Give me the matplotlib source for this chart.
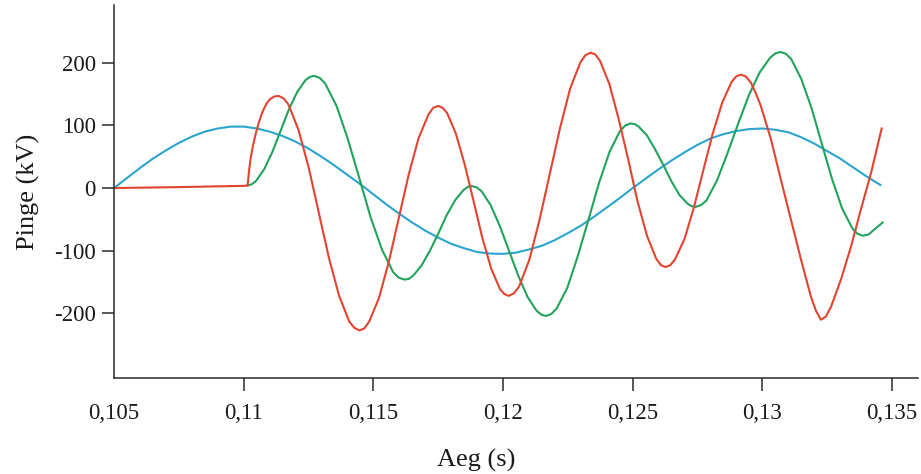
import matplotlib
matplotlib.use("Agg")
import matplotlib.pyplot as plt

# time axis (s) and voltages (kV)
red_t = [0.10500, 0.10750, 0.11000, 0.11015,
         0.11020, 0.11027, 0.11036, 0.11046, 0.11058, 0.11072, 0.11087, 0.11102, 0.11118, 0.11134,
         0.11154, 0.11173, 0.11212, 0.11251, 0.11290, 0.11329, 0.11368, 0.11407, 0.11427, 0.11446,
         0.11465, 0.11484, 0.11522, 0.11560, 0.11598, 0.11636, 0.11674, 0.11712, 0.11731, 0.11750,
         0.11767, 0.11784, 0.11818, 0.11852, 0.11886, 0.11920, 0.11954, 0.11988, 0.12005, 0.12022,
         0.12042, 0.12062, 0.12101, 0.12140, 0.12180, 0.12220, 0.12259, 0.12299, 0.12318, 0.12338,
         0.12356, 0.12374, 0.12410, 0.12446, 0.12483, 0.12518, 0.12555, 0.12591, 0.12609, 0.12627,
         0.12645, 0.12663, 0.12700, 0.12736, 0.12772, 0.12808, 0.12845, 0.12881, 0.12899, 0.12917,
         0.12936, 0.12956, 0.12975, 0.12994, 0.13033, 0.13071, 0.13110, 0.13149, 0.13187, 0.13207, 0.13226,
         0.13245, 0.13265, 0.13303, 0.13342, 0.13380, 0.13419, 0.13460]
red_v = [0, 1.5, 3.5, 4,
         25, 48, 68, 86, 104, 121, 134, 142, 146, 147,
         143, 133, 92, 32, -40, -112, -172, -213, -223, -227,
         -224, -213, -175, -117, -48, 21, 79, 117, 128, 131,
         128, 120, 87, 38, -20, -79, -128, -161, -169, -172,
         -168, -157, -115, -52, 22, 96, 159, 201, 212, 216,
         213, 203, 166, 110, 45, -20, -76, -113, -123, -126,
         -123, -114, -81, -31, 28, 86, 136, 169, 178, 181,
         178, 168, 151, 131, 78, 14, -50, -114, -173, -196, -210,
         -205, -189, -146, -93, -34, 24, 95]

green_t = [0.11015, 0.11031, 0.11047, 0.11079, 0.11111, 0.11143, 0.11174, 0.11206, 0.11238, 0.11254, 0.11270,
           0.11292, 0.11314, 0.11358, 0.11401, 0.11445, 0.11489, 0.11533, 0.11576, 0.11598, 0.11620,
           0.11636, 0.11653, 0.11685, 0.11718, 0.11751, 0.11783, 0.11816, 0.11848, 0.11865, 0.11881,
           0.11899, 0.11917, 0.11952, 0.11988, 0.12024, 0.12059, 0.12095, 0.12130, 0.12148, 0.12166,
           0.12186, 0.12207, 0.12248, 0.12288, 0.12329, 0.12370, 0.12411, 0.12451, 0.12472, 0.12492,
           0.12508, 0.12523, 0.12555, 0.12586, 0.12618, 0.12649, 0.12680, 0.12712, 0.12727, 0.12743,
           0.12764, 0.12784, 0.12825, 0.12866, 0.12907, 0.12948, 0.12989, 0.13030, 0.13051, 0.13071,
           0.13091, 0.13111, 0.13150, 0.13190, 0.13229, 0.13269, 0.13308, 0.13348, 0.13367, 0.13387,
           0.13410, 0.13432, 0.13464]
green_v = [4, 6, 11, 30, 58, 92, 125, 153, 172, 177, 179,
           176, 167, 131, 79, 17, -46, -98, -134, -143, -146,
           -145, -140, -124, -100, -72, -43, -19, -3, 2, 3,
           1, -5, -27, -61, -101, -140, -174, -196, -202, -204,
           -201, -192, -159, -109, -51, 8, 58, 91, 100, 103,
           102, 98, 84, 62, 37, 11, -11, -25, -29, -30,
           -27, -20, 12, 56, 103, 148, 184, 208, 215, 217,
           214, 206, 174, 127, 71, 14, -33, -65, -73, -76,
           -74, -66, -55]

blue_t = [0.1050, 0.1055, 0.1060, 0.1065, 0.1070, 0.1075, 0.1080, 0.1085, 0.1090, 0.1095,
          0.1100, 0.1105, 0.1110, 0.1115, 0.1120, 0.1125, 0.1130, 0.1135, 0.1140, 0.1145,
          0.1150, 0.1155, 0.1160, 0.1165, 0.1170, 0.1175, 0.1180, 0.1185, 0.1190, 0.1195,
          0.1200, 0.1205, 0.1210, 0.1215, 0.1220, 0.1225, 0.1230, 0.1235, 0.1240, 0.1245,
          0.1250, 0.1255, 0.1260, 0.1265, 0.1270, 0.1275, 0.1280, 0.1285, 0.1290, 0.1295,
          0.1300, 0.1305, 0.1310, 0.1315, 0.1320, 0.1325, 0.1330, 0.1335, 0.1340, 0.13455]
blue_v = [0, 16, 32, 47, 60, 72, 82, 90, 95, 98,
          98, 95, 90, 83, 74, 63, 50, 36, 21, 6,
          -10, -26, -41, -55, -68, -79, -89, -96, -102, -104.5,
          -105, -103, -98, -92, -83, -72, -60, -46, -31, -16,
          0, 15, 30, 44, 57, 69, 79, 86, 91, 94,
          95, 93, 89, 81, 71, 59, 47, 33, 19, 5]

x_ticks = [0.105, 0.11, 0.115, 0.12, 0.125, 0.13, 0.135]
x_labels = ["0,105", "0,11", "0,115", "0,12", "0,125", "0,13", "0,135"]
y_ticks = [200, 100, 0, -100, -200]
y_labels = ["200", "100", "0", "-100", "-200"]

plt.rcParams['font.family'] = ['Liberation Serif', 'DejaVu Serif']

fig = plt.figure(figsize=(9.21, 4.74), dpi=100)
ax = fig.add_axes([0.1238, 0.2025, 0.8729, 0.787])

ax.plot(blue_t, blue_v, color='#2ba4cf', lw=1.5)
ax.plot(green_t, green_v, color='#22a35c', lw=1.5)
ax.plot(red_t, red_v, color='#e3442f', lw=1.5)

ax.set_xlim(0.105, 0.1360)
ax.set_ylim(-303, 292)

for s in ['top', 'right']:
    ax.spines[s].set_visible(False)
for s in ['left', 'bottom']:
    ax.spines[s].set_color('#2a2a2a')
    ax.spines[s].set_linewidth(1.1)

ax.set_xticks(x_ticks)
ax.set_xticklabels(x_labels)
ax.set_yticks(y_ticks)
ax.set_yticklabels(y_labels)
ax.tick_params(direction='out', length=9, width=1.1, color='#2a2a2a',
               labelcolor='#1a1a1a', labelsize=16.5)
ax.tick_params(axis='x', pad=9)
ax.tick_params(axis='y', pad=4)
ax.xaxis.get_major_ticks()[0].tick1line.set_visible(False)

ax.set_xlabel("Aeg (s)", fontsize=19, color='#1a1a1a')
ax.xaxis.set_label_coords(0.45, -0.19)
ax.set_ylabel("Pinge (kV)", fontsize=19, color='#1a1a1a', labelpad=10)

fig.savefig("out.png", dpi=100)
